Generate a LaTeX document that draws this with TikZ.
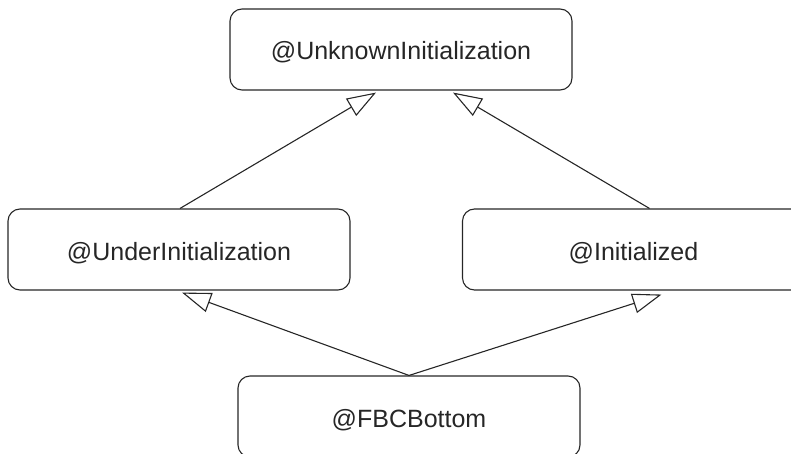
\documentclass[tikz,border=0pt]{standalone}
\usepackage{fontspec}
\setmainfont{Liberation Sans}
\usetikzlibrary{arrows.meta,calc}
\begin{document}
\begin{tikzpicture}[x=1pt,y=-1pt,
  box/.style={draw=black!85, line width=1.1pt, rounded corners=12pt,
    minimum width=342pt, minimum height=81pt, inner sep=0pt,
    text height=21pt, text depth=0pt,
    text=black!85, font=\fontsize{25}{30}\selectfont},
  inh/.style={draw=black!85, line width=1.1pt,
    -{Triangle[open, length=29pt, width=20pt, line width=1.1pt]}}]
\useasboundingbox (0,0) rectangle (791,454);
\clip (0,0) rectangle (791,454);
\node[box] (top) at (401,49.5) {@UnknownInitialization};
\node[box] (left) at (179,249.5) {@UnderInitialization};
\node[box] (right) at (633.5,249.5) {@Initialized};
\node[box] (bottom) at (409,416.5) {@FBCBottom};
\draw[inh] ($(left.north)+(1,0)$) -- ($(top.south)+(-25,2)$);
\draw[inh] ($(right.north)+(16,0)$) -- ($(top.south)+(52,2)$);
\draw[inh] (bottom.north) -- ($(left.south)+(3,2)$);
\draw[inh] (bottom.north) -- ($(right.south)+(28,4)$);
\end{tikzpicture}
\end{document}
